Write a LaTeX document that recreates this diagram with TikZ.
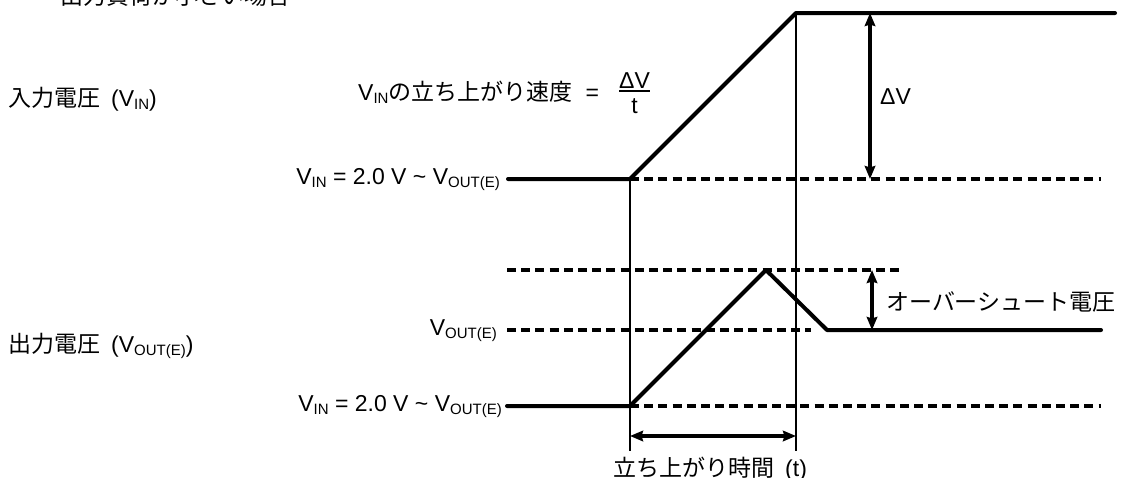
\documentclass[tikz,border=0pt]{standalone}
\usepackage{fontspec}
\setmainfont{Liberation Sans}
\newfontfamily\jp{Noto Sans CJK JP}
\usetikzlibrary{arrows.meta}
\newcommand\subtxt[1]{\raisebox{-3.5pt}{\fontsize{15}{15}\selectfont #1}}
\tikzset{
  lbl/.style={inner sep=0pt, font=\fontsize{23}{27}\selectfont},
  sig/.style={line width=4pt, line cap=round, line join=round},
  dashln/.style={line width=3.2pt, dash pattern=on 9pt off 5.2pt},
  thinln/.style={line width=1.5pt},
  dimarrow/.style={line width=3.5pt, arrows={Stealth[length=13pt,width=10.5pt,inset=1.5pt]-Stealth[length=13pt,width=10.5pt,inset=1.5pt]}}
}
\begin{document}
\begin{tikzpicture}[x=1pt,y=-1pt]
\useasboundingbox (0,0) rectangle (1126,477);
\clip (0,0) rectangle (1126,477);
% coordinates
\coordinate (a0) at (508,179);
\coordinate (a1) at (630,179);
\coordinate (a2) at (796,13);
\coordinate (a3) at (1115,13);
\coordinate (ad) at (1101,179);
\coordinate (b0) at (507,406);
\coordinate (b1) at (630,406);
\coordinate (b2) at (766,270);
\coordinate (b3) at (827,330);
\coordinate (b4) at (1101,330);
\coordinate (bd) at (1101,406);
\coordinate (p0) at (507,270);
\coordinate (p1) at (904,270);
\coordinate (m0) at (507,330);
\coordinate (m1) at (811,330);
\coordinate (v1) at (630,451);
\coordinate (v2) at (796,451);
\coordinate (dv0) at (870,13);
\coordinate (dv1) at (870,179);
\coordinate (os0) at (872,270);
\coordinate (os1) at (872,330);
\coordinate (t0) at (630,436);
\coordinate (t1) at (796,436);
\coordinate (fr0) at (619,91);
\coordinate (fr1) at (650,91);
% dashed reference lines
\draw[dashln] (a1) -- (ad);
\draw[dashln] (p0) -- (p1);
\draw[dashln] (m0) -- (m1);
\draw[dashln] (b1) -- (bd);
% vertical markers
\draw[thinln] (a1) -- (v1);
\draw[thinln] (a2) -- (v2);
% signals
\draw[sig] (a0) -- (a1) -- (a2) -- (a3);
\draw[sig] (b0) -- (b1) -- (b2) -- (b3) -- (b4);
% dimension arrows
\draw[dimarrow] (dv0) -- (dv1);
\draw[dimarrow] (os0) -- (os1);
\draw[dimarrow] (t0) -- (t1);
% fraction bar
\draw[line width=1.5pt] (fr0) -- (fr1);
% labels
\node[lbl, anchor=base west] (title) at (60,4) {\jp 出力負荷が小さい場合};
\node[lbl, anchor=base west] (vinlbl) at (8,106) {{\jp 入力電圧}\hspace{11pt}(V\subtxt{IN})};
\node[lbl, anchor=base west] (voutlbl) at (8,352) {{\jp 出力電圧}\hspace{11pt}(V\subtxt{OUT(E)})};
\node[lbl, anchor=base west] (rate) at (358,100) {V\subtxt{IN}{\jp の立ち上がり速度}\hspace{13pt}=};
\node[lbl, anchor=base] (num) at (634.5,88) {ΔV};
\node[lbl, anchor=base] (den) at (634.5,113) {t};
\node[lbl, anchor=base east] (lvl1) at (500,184) {V\subtxt{IN} = 2.0 V \textasciitilde{} V\subtxt{OUT(E)}};
\node[lbl, anchor=base east] (lvl2) at (497,335) {V\subtxt{OUT(E)}};
\node[lbl, anchor=base east] (lvl3) at (502,411) {V\subtxt{IN} = 2.0 V \textasciitilde{} V\subtxt{OUT(E)}};
\node[lbl, anchor=base west] (dvlbl) at (880,104) {ΔV};
\node[lbl, anchor=base west] (oslbl) at (886,310) {\jp オーバーシュート電圧};
\node[lbl, anchor=base west] (trise) at (613,476) {{\jp 立ち上がり時間}\hspace{11pt}(t)};
\end{tikzpicture}
\end{document}
